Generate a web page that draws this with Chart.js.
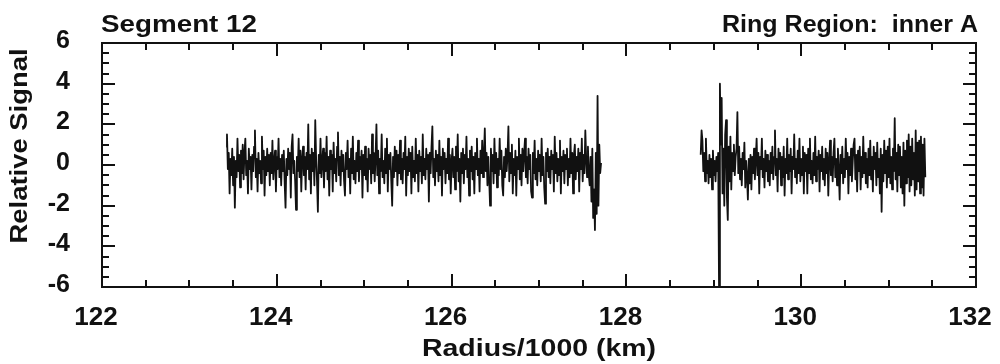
<!DOCTYPE html>
<html>
<head>
<meta charset="utf-8">
<script src="https://cdn.jsdelivr.net/npm/chart.js@4.4.1/dist/chart.umd.min.js"></script>
<style>
  html, body { margin: 0; padding: 0; background: #ffffff; }
  #wrap { width: 1000px; height: 364px; position: relative; }
</style>
</head>
<body>
<div id="wrap"><canvas id="chart" width="1000" height="364"></canvas></div>
<script>
// Occultation profile, inner A ring: relative signal against radius (units of 1000 km).
const headerLeft = 'Segment 12';
const headerRight = 'Ring Region:  inner A';
const xTitle = 'Radius/1000 (km)';
const yTitle = 'Relative Signal';

// Axis ranges and tick spacing
const xRange = [122, 132];
const yRange = [-6, 6];
const xLabelStep = 2;   // labelled ticks: 122, 124, ... 132
const yLabelStep = 2;   // labelled ticks: -6, -4, ... 6
const minorStep = 0.5;

// Radius sampling of each data segment
const segmentAStart = 123.42;
const segmentBStart = 128.85;
const sampleStep = 0.01;

// Relative signal, first segment (123.42 - 127.71)
const signalA = [
  0.9, 1.5, -0.2, 0.6, -1.4, 0.3, -0.5, 0.8, -1.0, 0.4,
  -2.1, 0.2, -0.6, 1.3, -0.3, 0.5, -1.1, 0.7, -0.4, 1.0,
  -0.7, 0.6, 1.3, -0.5, 0.2, -1.4, 0.8, -0.2, 0.4, -1.2,
  0.5, -0.3, 0.9, 1.7, -0.6, 0.3, -1.3, 0.6, -0.4, 0.2,
  -0.9, 1.4, -0.2, 0.7, -1.5, 0.4, -0.5, 0.8, -0.3, 0.5,
  -1.0, 0.6, -0.4, 1.2, -0.7, 0.2, 0.7, -1.3, 0.4, -0.2,
  1.3, -0.6, 0.3, -1.0, 0.5, -0.3, 0.7, -0.9, -2.1, 0.3,
  -0.5, 0.8, -0.2, 0.6, -1.6, 0.9, 1.5, -0.4, 0.2, -0.8,
  -2.2, 0.4, -0.3, 1.3, -0.6, 0.7, -1.3, 0.3, 0.9, -0.5,
  0.4, -1.2, 0.6, -0.2, 2.0, -0.7, 0.5, -1.4, 0.8, -0.3,
  0.6, -1.0, 2.2, 0.3, -0.8, -2.3, 0.5, -0.4, 1.3, -0.6,
  0.2, 0.8, -1.1, 0.6, -0.3, 1.4, -0.7, 0.4, -1.5, 0.7,
  -0.2, 0.5, -1.3, 1.1, -0.4, 0.3, -0.8, 0.9, 1.6, -0.5,
  0.4, -1.0, 0.7, -0.3, 0.5, -0.8, -1.5, 0.6, -0.2, 1.2,
  -0.6, 0.3, -1.4, 0.8, -0.4, 1.4, -0.7, 0.2, -0.9, 0.6,
  -0.3, 1.2, -0.8, 0.4, -0.2, 0.7, -1.6, 0.5, -0.5, 0.9,
  -0.7, 0.3, -1.3, 0.8, -0.2, 0.5, -0.9, 1.5, -0.4, 0.6,
  -0.8, 0.4, 2.0, -0.5, 0.7, -1.4, 0.3, -0.3, 1.5, -0.6,
  0.2, -0.9, 0.8, -0.4, 1.3, -1.3, 0.5, -0.2, 0.6, -0.8,
  -2.0, 0.4, -0.6, 0.9, -0.3, 0.7, -1.0, 0.5, -0.4, 1.2,
  -0.7, 0.3, -0.9, 0.6, -0.2, 1.4, -1.5, 0.4, -0.5, 0.8,
  -0.3, 0.6, -1.4, 0.9, -0.6, 0.2, -0.8, 1.3, -0.4, 0.5,
  -1.3, 0.7, -0.3, 0.4, -0.9, 1.5, -0.5, 0.3, -0.7, 0.8,
  -0.2, 0.5, -1.8, 0.6, -0.4, 0.9, 1.9, -0.6, 0.3, -1.0,
  0.7, -0.3, 0.5, -0.8, 1.2, -0.5, 0.4, -1.5, 0.8, -0.2,
  0.6, -0.9, 0.3, -0.4, 1.3, -0.7, 0.5, -1.4, 0.2, 0.8,
  -0.6, 0.4, -1.2, 0.9, -0.3, 1.5, -0.8, 0.3, -1.8, 0.6,
  -0.4, 0.8, -0.9, 0.5, -0.2, 1.4, -0.6, 0.3, -1.5, 0.7,
  -0.3, 0.9, -0.7, 0.4, -1.4, 0.6, -0.2, 1.3, -0.5, 0.3,
  -1.3, 0.7, -0.4, 1.2, -0.6, 0.5, 1.8, -0.3, 0.6, -1.0,
  0.4, -0.7, -2.0, 0.8, -0.3, 0.5, -0.9, 1.3, -0.4, 0.6,
  -1.1, 0.3, -0.5, 1.3, -0.2, 0.7, -1.0, -1.5, 0.4, -0.6,
  0.8, -0.3, 0.5, 1.9, -0.8, 0.6, -0.4, 1.0, -1.4, 0.3,
  -0.5, 0.7, -1.5, 0.4, -0.2, 1.3, -0.7, 0.5, -1.0, 0.8,
  -0.3, 0.6, 1.3, -0.6, 0.4, -0.9, 0.8, -0.2, 0.5, -1.3,
  -1.6, 0.6, -0.4, 1.2, -0.7, 0.3, -1.0, 0.7, -0.3, 0.5,
  -0.8, 1.3, -0.5, 0.4, -1.1, -1.9, 0.6, -0.3, 0.8, -0.6,
  0.4, -0.9, 0.7, -0.2, 0.5, -1.3, 1.4, -0.4, 0.6, -0.8,
  0.3, -0.5, 1.2, -1.4, 0.4, -0.3, 0.7, -0.9, 0.5, -0.2,
  0.8, -1.0, 0.3, -0.6, 1.3, -0.4, 0.6, -1.4, 0.5, 1.0,
  -0.7, 0.4, -0.3, 0.8, -1.3, 0.6, -0.2, 1.3, -0.8, 0.5,
  -0.4, 1.7, 0.3, -0.6, 0.9, -0.5, -1.0, 0.4, -1.8, 0.8,
  -2.6, -1.2, -3.2, 0.6, -2.4, 3.4, -2.0, 1.0, -0.4, 0.1
];

// Relative signal, second segment (128.85 - 131.42)
const signalB = [
  0.5, 1.7, 1.2, -0.3, 0.6, -0.8, 1.3, -0.4, 0.2, -0.9,
  0.5, -0.6, 0.3, -1.2, 0.7, -0.5, 0.2, -0.8, 0.4, -0.3,
  0.6, -6.0, 4.0, 1.0, 3.3, -1.4, 0.8, -2.0, 1.5, 2.2,
  -1.6, -2.7, 0.9, -0.8, 1.4, -1.2, 0.6, -0.3, 1.0, -0.5,
  0.4, 0.8, 2.6, -0.4, 0.9, -0.7, 0.3, -1.0, 0.6, -0.2,
  1.1, -1.1, 0.2, -0.6, -1.7, 0.3, -0.9, 0.5, -1.2, 0.4,
  -0.4, 0.8, -0.7, 0.3, 1.3, -0.5, 0.6, -1.4, 0.4, -0.2,
  1.3, -0.6, 0.3, -1.1, 0.7, -0.3, 0.5, -0.8, 0.2, -1.0,
  0.6, -0.4, 0.9, -0.7, 0.4, 1.7, -0.5, 0.3, -1.3, 0.8,
  -0.2, 0.6, -1.0, 0.4, -0.6, 0.9, -1.5, 0.3, -0.4, 1.3,
  -0.7, 0.5, -0.3, 0.8, -1.4, 0.4, -0.2, 1.5, -0.6, 0.3,
  -0.9, 0.7, -0.4, 1.3, -0.8, 0.3, -0.5, 0.9, -1.4, 0.6,
  -0.3, 0.5, -1.4, 0.8, -0.4, 1.3, -0.7, 0.2, -0.9, 0.6,
  -0.5, 1.4, -0.8, 0.4, -0.2, 0.7, -1.3, 0.5, -0.3, 0.9,
  -0.7, 0.3, -1.0, 0.8, -0.4, 0.6, -1.5, 0.2, 1.2, -0.5,
  0.4, -0.8, 0.6, 1.3, -0.6, 0.3, -1.0, 0.8, -0.3, -1.7,
  0.5, -0.4, 0.9, -0.9, 0.3, -0.6, 1.3, -0.2, 0.6, -1.4,
  0.4, -0.5, 0.8, -0.8, 0.2, 1.0, 1.3, -0.7, 0.5, -1.3,
  0.7, -0.3, 0.9, -1.2, 0.4, -0.6, 1.4, -0.4, 0.6, -0.9,
  0.3, -1.1, 0.8, -0.5, 1.2, -0.7, 0.4, -1.3, 0.9, -0.2,
  0.6, -1.0, 1.1, -0.6, 0.3, -1.4, 0.8, -2.3, 0.5, -0.8,
  1.2, -0.4, 0.7, -1.1, 0.9, -0.6, 1.3, -0.9, 0.4, -1.2,
  0.8, -0.3, 2.3, -0.7, 0.6, -1.3, 1.0, -0.5, 0.9, -1.1,
  0.4, -1.4, 1.1, -2.0, 0.7, -0.9, 1.2, -0.6, 1.5, -1.3,
  0.9, -1.0, 1.3, -0.7, 0.6, -1.5, 1.7, -1.2, 1.1, -0.8,
  1.2, -1.4, 1.4, -1.1, 1.0, -1.5, 1.3, -0.6
];

function toPoints(start, values) {
  return values.map((v, i) => ({ x: +(start + i * sampleStep).toFixed(3), y: v }));
}

const INK = '#111111';
const FONT = '"Liberation Sans", Arial, Helvetica, sans-serif';

function isLabelled(v, step) {
  const q = v / step;
  return Math.abs(q - Math.round(q)) < 1e-6;
}

// Fixed plot frame
const frame = { left: 102, right: 976, top: 43, bottom: 287 };

// Text drawn at a given size and stretched to a set width
function drawText(ctx, text, x, y, size, width, align) {
  ctx.save();
  ctx.font = 'bold ' + size + 'px ' + FONT;
  const w = ctx.measureText(text).width;
  ctx.translate(x, y);
  ctx.scale(width / w, 1);
  ctx.textAlign = align;
  ctx.textBaseline = 'alphabetic';
  ctx.fillText(text, 0, 0);
  ctx.restore();
}

// Frame, inward tick marks on all four sides, headers and axis titles
const framePlugin = {
  id: 'framePlugin',
  afterDatasetsDraw(chart) {
    const ctx = chart.ctx;
    const a = chart.chartArea;
    const xs = chart.scales.x, ys = chart.scales.y;
    ctx.save();
    ctx.strokeStyle = INK;
    ctx.lineWidth = 2;
    ctx.lineCap = 'butt';
    ctx.strokeRect(a.left, a.top, a.right - a.left, a.bottom - a.top);
    ctx.beginPath();
    xs.ticks.forEach(t => {
      const px = Math.round(xs.getPixelForValue(t.value));
      const len = isLabelled(t.value, xLabelStep) ? 13 : 7;
      ctx.moveTo(px, a.bottom); ctx.lineTo(px, a.bottom - len);
      ctx.moveTo(px, a.top); ctx.lineTo(px, a.top + len);
    });
    ys.ticks.forEach(t => {
      const py = Math.round(ys.getPixelForValue(t.value));
      const len = isLabelled(t.value, yLabelStep) ? 13 : 7;
      ctx.moveTo(a.left, py); ctx.lineTo(a.left + len, py);
      ctx.moveTo(a.right, py); ctx.lineTo(a.right - len, py);
    });
    ctx.stroke();
    ctx.restore();
  },
  afterDraw(chart) {
    const ctx = chart.ctx;
    const a = chart.chartArea;
    ctx.save();
    ctx.fillStyle = INK;
    drawText(ctx, headerLeft, a.left - 1, 32, 23, 156, 'left');
    drawText(ctx, headerRight, a.right + 2, 32, 23, 256, 'right');
    drawText(ctx, xTitle, (a.left + a.right) / 2, 356, 23, 234, 'center');
    ctx.translate(27, 146);
    ctx.rotate(-Math.PI / 2);
    drawText(ctx, yTitle, 0, 0, 23, 195, 'center');
    ctx.restore();
  }
};

new Chart(document.getElementById('chart'), {
  type: 'line',
  data: {
    datasets: [
      { data: toPoints(segmentAStart, signalA), borderColor: INK, backgroundColor: INK },
      { data: toPoints(segmentBStart, signalB), borderColor: INK, backgroundColor: INK }
    ]
  },
  options: {
    responsive: false,
    animation: false,
    events: [],
    layout: { padding: { top: frame.top, right: 1000 - frame.right, left: 0, bottom: 0 } },
    datasets: {
      line: {
        borderWidth: 1.8,
        borderJoinStyle: 'round',
        pointRadius: 0,
        tension: 0,
        fill: false
      }
    },
    plugins: { legend: { display: false }, tooltip: { enabled: false }, title: { display: false } },
    scales: {
      x: {
        type: 'linear',
        min: xRange[0], max: xRange[1],
        border: { display: false },
        grid: { display: false, drawTicks: false },
        afterFit(scale) {
          scale.height = 364 - frame.bottom;
          scale.paddingLeft = 0;
          scale.paddingRight = 0;
        },
        ticks: {
          stepSize: minorStep,
          autoSkip: false,
          maxRotation: 0,
          padding: 15,
          labelOffset: -6,
          color: INK,
          font: { family: FONT, size: 26, weight: 'bold' },
          callback: v => isLabelled(v, xLabelStep) ? String(v) : ''
        }
      },
      y: {
        type: 'linear',
        min: yRange[0], max: yRange[1],
        border: { display: false },
        grid: { display: false, drawTicks: false },
        afterFit(scale) {
          scale.width = frame.left;
          scale.paddingTop = 0;
          scale.paddingBottom = 0;
        },
        ticks: {
          stepSize: minorStep,
          autoSkip: false,
          padding: 32,
          labelOffset: -2,
          color: INK,
          font: { family: FONT, size: 25, weight: 'bold' },
          callback: v => isLabelled(v, yLabelStep) ? String(v) : ''
        }
      }
    }
  },
  plugins: [framePlugin]
});
</script>
</body>
</html>
